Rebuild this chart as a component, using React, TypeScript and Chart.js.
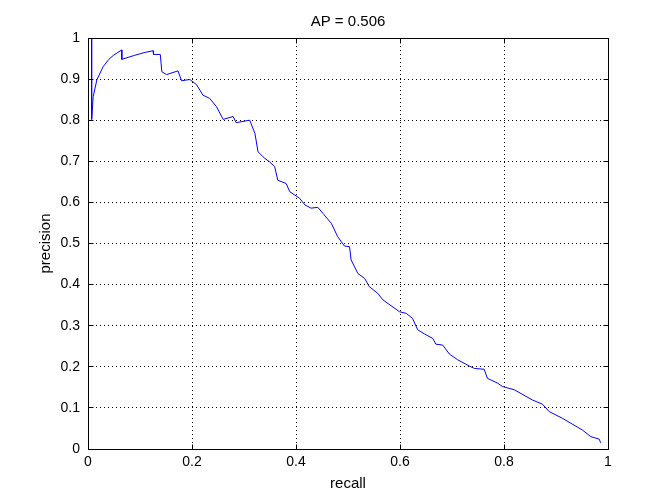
import React, { useEffect, useRef } from "react";
import { Chart, registerables } from "chart.js";

Chart.register(...registerables);

const recall = [
  0.007, 0.007, 0.010, 0.017, 0.029, 0.040, 0.049, 0.065, 0.065, 0.090,
  0.110, 0.125, 0.126, 0.139, 0.142, 0.151, 0.173, 0.180, 0.196, 0.209,
  0.221, 0.234, 0.247, 0.260, 0.279, 0.285, 0.311, 0.321, 0.327, 0.340,
  0.349, 0.359, 0.365, 0.381, 0.388, 0.407, 0.417, 0.429, 0.442, 0.452,
  0.468, 0.480, 0.493, 0.503, 0.506, 0.519, 0.532, 0.541, 0.557, 0.567,
  0.599, 0.612, 0.624, 0.634, 0.647, 0.663, 0.669, 0.682, 0.695, 0.711,
  0.733, 0.743, 0.762, 0.768, 0.788, 0.797, 0.820, 0.855, 0.874, 0.887,
  0.912, 0.951, 0.967, 0.983, 0.986,
];

const precision = [
  1.0, 0.802, 0.857, 0.898, 0.930, 0.948, 0.958, 0.971, 0.948, 0.958,
  0.965, 0.969, 0.960, 0.960, 0.918, 0.911, 0.920, 0.896, 0.899, 0.886,
  0.861, 0.853, 0.833, 0.802, 0.809, 0.794, 0.800, 0.768, 0.723, 0.707,
  0.699, 0.687, 0.654, 0.646, 0.626, 0.610, 0.594, 0.586, 0.588, 0.573,
  0.549, 0.517, 0.494, 0.492, 0.460, 0.427, 0.415, 0.395, 0.379, 0.363,
  0.334, 0.330, 0.318, 0.290, 0.280, 0.269, 0.255, 0.253, 0.231, 0.217,
  0.202, 0.196, 0.194, 0.172, 0.160, 0.152, 0.144, 0.119, 0.109, 0.091,
  0.075, 0.046, 0.030, 0.024, 0.015,
];

const xTickValues = [0, 0.2, 0.4, 0.6, 0.8, 1];
const yTickValues = [0, 0.1, 0.2, 0.3, 0.4, 0.5, 0.6, 0.7, 0.8, 0.9, 1];
const titleText = "AP = 0.506";
const xLabel = "recall";
const yLabel = "precision";

const FONT = "Liberation Sans, Arial, Helvetica, sans-serif";

const align = (p: number) => Math.round(p - 0.5) + 0.5;

const framePlugin = {
  id: "frame",
  afterDraw(chart: any) {
    const { ctx, chartArea: a, scales } = chart;
    const x = scales.x;
    const y = scales.y;
    ctx.save();
    ctx.strokeStyle = "#000";
    ctx.lineWidth = 1;
    ctx.setLineDash([]);
    const L = align(a.left);
    const R = align(a.right);
    const T = align(a.top);
    const B = align(a.bottom);
    ctx.beginPath();
    ctx.rect(L, T, R - L, B - T);
    ctx.stroke();
    const tl = 5;
    ctx.beginPath();
    xTickValues.forEach((v) => {
      const px = align(x.getPixelForValue(v));
      ctx.moveTo(px, B);
      ctx.lineTo(px, B - tl);
      ctx.moveTo(px, T);
      ctx.lineTo(px, T + tl);
    });
    yTickValues.forEach((v) => {
      const py = align(y.getPixelForValue(v));
      ctx.moveTo(L, py);
      ctx.lineTo(L + tl, py);
      ctx.moveTo(R, py);
      ctx.lineTo(R - tl, py);
    });
    ctx.stroke();

    ctx.fillStyle = "#000";
    ctx.font = `15px ${FONT}`;
    ctx.textAlign = "center";
    ctx.textBaseline = "middle";
    const cx = (a.left + a.right) / 2;
    ctx.fillText(titleText, cx, 22);
    ctx.fillText(xLabel, cx, 484);
    ctx.save();
    ctx.translate(46, (a.top + a.bottom) / 2);
    ctx.rotate(-Math.PI / 2);
    ctx.fillText(yLabel, 0, 0);
    ctx.restore();
    ctx.restore();
  },
};

export default function App() {
  const ref = useRef<HTMLCanvasElement | null>(null);
  useEffect(() => {
    if (!ref.current) return;
    const chart = new Chart(ref.current, {
      type: "scatter",
      data: {
        datasets: [
          {
            data: recall.map((r, i) => ({ x: r, y: precision[i] })),
            showLine: true,
            borderColor: "#0000ff",
            borderWidth: 1,
            pointRadius: 0,
            tension: 0,
            fill: false,
          },
        ],
      },
      options: {
        responsive: false,
        animation: false,
        devicePixelRatio: 1,
        layout: { padding: { left: 0, right: 64, top: 38, bottom: 0 } },
        plugins: { legend: { display: false }, tooltip: { enabled: false }, title: { display: false } },
        scales: {
          x: {
            type: "linear",
            min: 0,
            max: 1,
            afterBuildTicks: (s: any) => {
              s.ticks = xTickValues.map((v) => ({ value: v }));
            },
            afterFit: (s: any) => {
              s.height = 55;
            },
            grid: { color: "#000", lineWidth: 1, drawTicks: false },
            border: { display: false, dash: [1, 3] },
            ticks: {
              color: "#000",
              padding: 5,
              maxRotation: 0,
              font: { family: FONT, size: 14 },
              callback: (v: any) => String(Math.round(Number(v) * 10) / 10),
            },
          },
          y: {
            type: "linear",
            min: 0,
            max: 1,
            afterBuildTicks: (s: any) => {
              s.ticks = yTickValues.map((v) => ({ value: v }));
            },
            afterFit: (s: any) => {
              s.width = 88;
            },
            grid: { color: "#000", lineWidth: 1, drawTicks: false },
            border: { display: false, dash: [1, 3] },
            ticks: {
              color: "#000",
              padding: 8,
              font: { family: FONT, size: 14 },
              callback: (v: any) => String(Math.round(Number(v) * 10) / 10),
            },
          },
        },
      },
      plugins: [framePlugin],
    });
    return () => chart.destroy();
  }, []);
  return (
    <div style={{ position: "fixed", left: 0, top: 0, width: 672, height: 504, background: "#fff" }}>
      <canvas ref={ref} width={672} height={504} style={{ display: "block", width: 672, height: 504 }} />
    </div>
  );
}
